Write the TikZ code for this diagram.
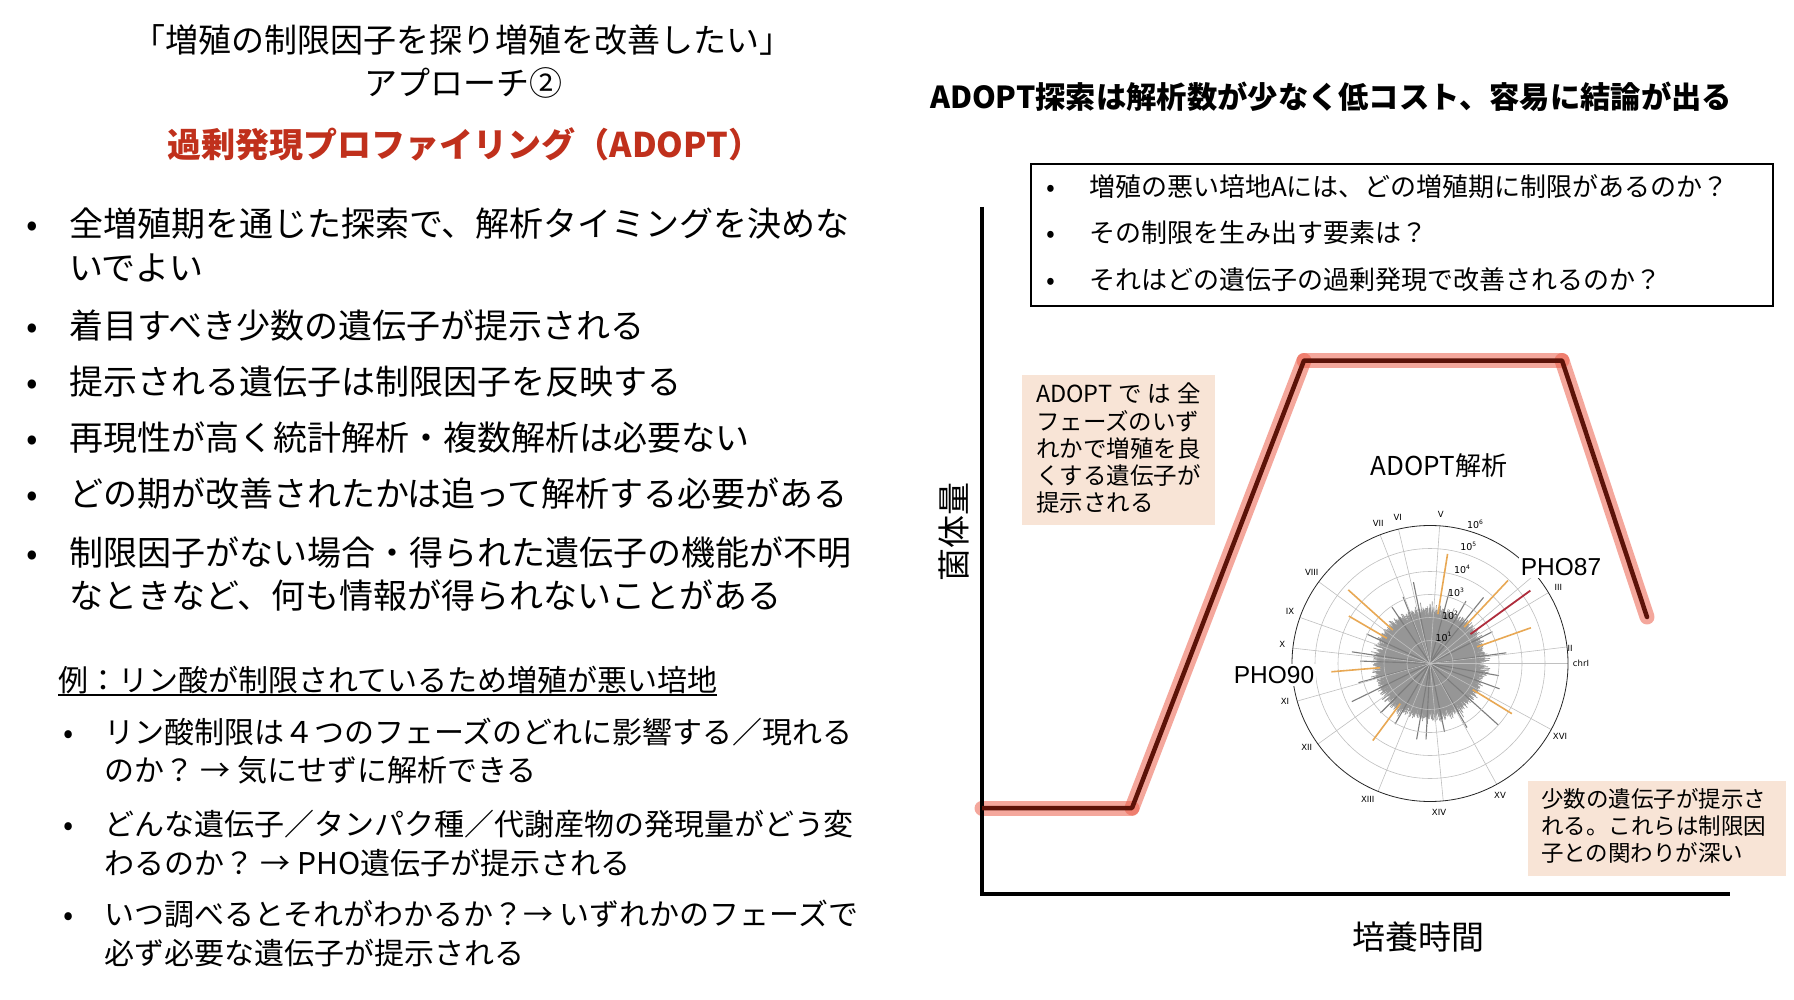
\documentclass[tikz,border=0pt]{standalone}
\usepackage{fontspec}
\setmainfont{Noto Sans CJK JP}
\newfontfamily\dejavu{DejaVu Sans}
\newfontfamily\arialf{Liberation Sans}
\definecolor{redtitle}{RGB}{192,48,28}
\definecolor{haloc}{RGB}{236,95,75}
\definecolor{darkcurve}{RGB}{92,18,8}
\definecolor{beige}{RGB}{248,228,214}
\definecolor{blobc}{RGB}{150,150,150}
\definecolor{longg}{RGB}{125,125,125}
\definecolor{gridc}{RGB}{192,192,192}
\definecolor{orangec}{RGB}{232,168,84}
\definecolor{redbarc}{RGB}{175,45,60}
\newcommand\tenp[1]{10\raisebox{0.45em}{\fontsize{6}{6}\selectfont #1}}
\begin{document}
\begin{tikzpicture}[x=1pt,y=-1pt,
  every node/.style={inner sep=0pt,outer sep=0pt},
  ttl/.style={anchor=base,font=\fontsize{33}{38}\selectfont},
  redttl/.style={anchor=base,text=redtitle,font=\fontsize{34}{40}\selectfont\bfseries},
  bigL/.style={anchor=base west,font=\fontsize{34}{40}\selectfont},
  midL/.style={anchor=base west,font=\fontsize{30}{36}\selectfont},
  rttl/.style={anchor=base west,font=\fontsize{30.3}{36}\selectfont\bfseries},
  boxL/.style={anchor=base west,font=\fontsize{26}{30}\selectfont},
  beigeL/.style={anchor=base west,font=\fontsize{23.5}{27}\selectfont},
  beigeS/.style={anchor=base west,font=\fontsize{22.5}{27}\selectfont},
  axlab/.style={anchor=center,font=\fontsize{33}{38}\selectfont},
  chrlab/.style={anchor=center,font=\dejavu\fontsize{8.5}{9}\selectfont},
  ringlab/.style={anchor=center,font=\dejavu\fontsize{9.5}{10}\selectfont},
  genelab/.style={anchor=center,fill=white,inner sep=2pt,font=\arialf\fontsize{24.5}{26}\selectfont},
  axisline/.style={line width=4pt,black},
  halo/.style={line width=15pt,haloc,opacity=0.55,line cap=round},
  curve/.style={line width=4.5pt,darkcurve,line join=round,line cap=round},
  blobbar/.style={line width=0.7pt,blobc},
  longbar/.style={line width=1.1pt,longg},
  gridline/.style={line width=0.6pt,gridc},
  orangebar/.style={line width=1.6pt,orangec},
  redbar/.style={line width=1.8pt,redbarc}
]
\useasboundingbox (0,0) rectangle (1794,1000);
\fill[white] (0,0) rectangle (1794,1000);

% ---------------- left panel ----------------
\node[ttl] (t1) at (462,52.5) {「増殖の制限因子を探り増殖を改善したい」};
\node[ttl] (t2) at (463,95.5) {アプローチ②};
\node[redttl] (t3) at (465,158) {過剰発現プロファイリング（ADOPT）};

\node[bigL] (b1d) at (26,237) {•};
\node[bigL] (b1) at (69,237) {全増殖期を通じた探索で、解析タイミングを決めな};
\node[bigL] (b1b) at (69,281) {いでよい};
\node[bigL] (b2d) at (26,338) {•};
\node[bigL] (b2) at (69,338) {着目すべき少数の遺伝子が提示される};
\node[bigL] (b3d) at (26,394) {•};
\node[bigL] (b3) at (69,394) {提示される遺伝子は制限因子を反映する};
\node[bigL] (b4d) at (26,450) {•};
\node[bigL] (b4) at (69,450) {再現性が高く統計解析・複数解析は必要ない};
\node[bigL] (b5d) at (26,506) {•};
\node[bigL] (b5) at (69,506) {どの期が改善されたかは追って解析する必要がある};
\node[bigL] (b6d) at (26,565) {•};
\node[bigL] (b6) at (69,565) {制限因子がない場合・得られた遺伝子の機能が不明};
\node[bigL] (b6b) at (69,608) {なときなど、何も情報が得られないことがある};

\node[midL] (ex) at (58,691) {例：リン酸が制限されているため増殖が悪い培地};
\draw[line width=1.5pt] (ex.base west) ++(0,4) coordinate (ul1) -- (ex.base east |- ul1);

\node[midL] (s1d) at (63,743) {•};
\node[midL] (s1) at (104,743) {リン酸制限は４つのフェーズのどれに影響する／現れる};
\node[midL] (s1b) at (104,781) {のか？ → 気にせずに解析できる};
\node[midL] (s2d) at (63,835) {•};
\node[midL] (s2) at (104,835) {どんな遺伝子／タンパク種／代謝産物の発現量がどう変};
\node[midL] (s2b) at (104,874) {わるのか？ → PHO遺伝子が提示される};
\node[midL] (s3d) at (63,925) {•};
\node[midL] (s3) at (104,925) {いつ調べるとそれがわかるか？→ いずれかのフェーズで};
\node[midL] (s3b) at (104,964) {必ず必要な遺伝子が提示される};

% ---------------- right panel ----------------
\node[rttl] (rt) at (930,108.5) {ADOPT探索は解析数が少なく低コスト、容易に結論が出る};

\draw[line width=1.2pt] (1031,164) rectangle (1773,306);
\node[boxL] (q1d) at (1046,197) {•};
\node[boxL] (q1) at (1089,197) {増殖の悪い培地Aには、どの増殖期に制限があるのか？};
\node[boxL] (q2d) at (1046,243) {•};
\node[boxL] (q2) at (1089,243) {その制限を生み出す要素は？};
\node[boxL] (q3d) at (1046,290) {•};
\node[boxL] (q3) at (1089,290) {それはどの遺伝子の過剰発現で改善されるのか？};

% growth curve halo
\coordinate (g0) at (982,808);
\coordinate (g1) at (1132,808);
\coordinate (g2) at (1304,360.5);
\coordinate (g3) at (1562,360.5);
\coordinate (g4) at (1647,617);
\draw[halo] (g0) -- (g1);
\draw[halo] (g1) -- (g2);
\draw[halo] (g2) -- (g3);
\draw[halo] (g3) -- (g4);

% axes
\draw[axisline] (982,207) -- (982,893.5) -- (1730,893.5);
\draw[curve,line cap=butt] (g0) -- (g1) -- (g2) -- (g3) -- (g4);
\fill[darkcurve] (g4) circle (2.25);

\node[axlab,rotate=90] (ylab) at (954,532) {菌体量};
\node[axlab] (xlab) at (1418,937) {培養時間};

% beige boxes
\fill[beige] (1022,375) rectangle (1215,525);
\node[beigeL] (a1) at (1036,402) {\makebox[164.5pt][l]{ADOPT\hfill で\hfill は\hfill 全}};
\node[beigeL] (a2) at (1036,430) {フェーズのいず};
\node[beigeL] (a3) at (1036,457) {れかで増殖を良};
\node[beigeL] (a4) at (1036,484) {くする遺伝子が};
\node[beigeL] (a5) at (1036,511) {提示される};

\fill[beige] (1528,781) rectangle (1786,876);
\node[beigeS] (c1) at (1541,807) {少数の遺伝子が提示さ};
\node[beigeS] (c2) at (1541,834) {れる。これらは制限因};
\node[beigeS] (c3) at (1541,861) {子との関わりが深い};

\node[anchor=center,font=\fontsize{26}{30}\selectfont] (adl) at (1439,466) {ADOPT解析};

% ---------------- polar plot ----------------
\begin{scope}[shift={(1430,663.5)},yscale=-1]
  \pgfmathsetseed{20240}
  \foreach \i in {0,...,1199}{
    \pgfmathsetmacro{\rr}{46+10*rnd+10*rnd*rnd*rnd}
    \draw[blobbar] (0,0) -- (\i*0.3:\rr);
  }
  \fill[blobc] (0,0) circle (47);
  \foreach \a/\l in {101.5/83,51/85,171.5/79,206/87,318/92,260/77,267/76,8/77,124/68,60/72,350/70,240/70,195/74,300/74,282/70,27/70,155/70,75/76,112/72,225/70,340/74,178/70}
    \draw[longbar] (0,0) -- (\a:\l);
  \foreach \r in {23,46,69,92,115}
    \draw[gridline] (0,0) circle (\r);
  \foreach \a in {0,6.9,30.9,40.3,86,103.2,111.2,143.7,160.5,173.6,195.8,215.7,247.9,275.5,298.9,331.4}
    \draw[gridline] (0,0) -- (\a:138);
  \draw[line width=0.8pt,black!85] (0,0) circle (138);
  \foreach \a/\l in {80.9/111,46.8/114,19.5/107,138/110,149.7/94,184.8/99,233.4/96,328.5/96}
    \draw[orangebar] (\a:50) -- (\a:\l);
  \draw[redbar] (36:50) -- (36:124);
\end{scope}

\node[chrlab] (cI) at (1581,663.3) {chrI};
\node[chrlab] (cII) at (1570,648.3) {II};
\node[chrlab] (cIII) at (1558.3,587.3) {III};
\node[chrlab] (cV) at (1440.7,514) {V};
\node[chrlab] (cVI) at (1397.7,517.3) {VI};
\node[chrlab] (cVII) at (1378.3,523.3) {VII};
\node[chrlab] (cVIII) at (1311.7,572.7) {VIII};
\node[chrlab] (cIX) at (1290,611.7) {IX};
\node[chrlab] (cX) at (1282.3,644.3) {X};
\node[chrlab] (cXI) at (1285,701) {XI};
\node[chrlab] (cXII) at (1306.7,747.3) {XII};
\node[chrlab] (cXIII) at (1367.7,799.3) {XIII};
\node[chrlab] (cXIV) at (1439,812.7) {XIV};
\node[chrlab] (cXV) at (1500,795) {XV};
\node[chrlab] (cXVI) at (1560,736.7) {XVI};

\node[ringlab] (r1) at (1443.5,637) {\tenp{1}};
\node[ringlab] (r2) at (1450,615) {\tenp{2}};
\node[ringlab] (r3) at (1456,592) {\tenp{3}};
\node[ringlab] (r4) at (1462,569.5) {\tenp{4}};
\node[ringlab] (r5) at (1468.3,546.7) {\tenp{5}};
\node[ringlab] (r6) at (1475,524) {\tenp{6}};

\node[genelab] (pho87) at (1561,567) {PHO87};
\node[genelab] (pho90) at (1274,675) {PHO90};
\end{tikzpicture}
\end{document}
